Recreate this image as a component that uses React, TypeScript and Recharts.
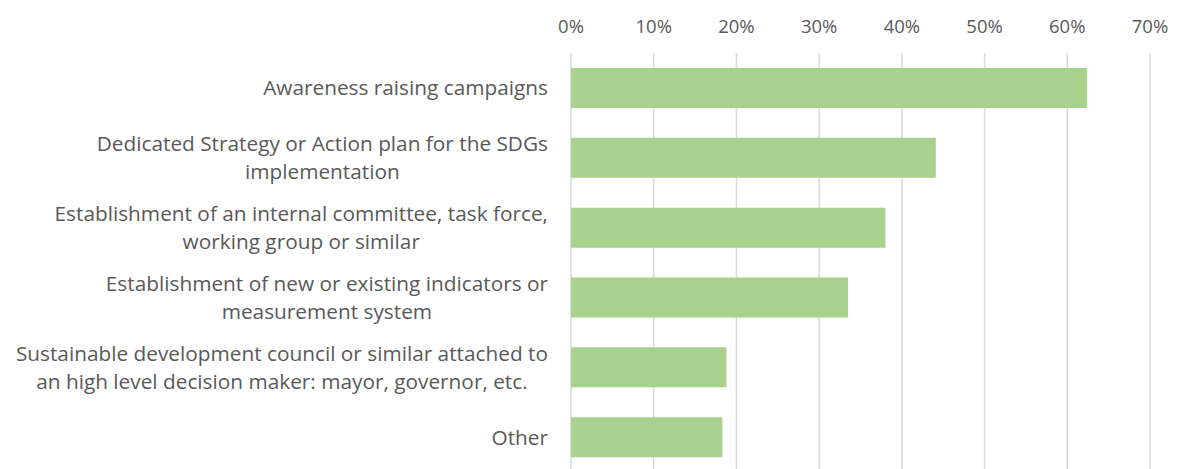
import React from 'react';
import { BarChart, Bar, XAxis, YAxis, CartesianGrid } from 'recharts';

const categories = [
  'Awareness raising campaigns',
  'Dedicated Strategy or Action plan for the SDGs\nimplementation',
  'Establishment of an internal committee, task force,\nworking group or similar',
  'Establishment of new or existing indicators or\nmeasurement system',
  'Sustainable development council or similar attached to\nan high level decision maker: mayor, governor, etc.',
  'Other',
];

const shares = [0.624, 0.441, 0.38, 0.335, 0.188, 0.183];

const xTicks = [0, 0.1, 0.2, 0.3, 0.4, 0.5, 0.6, 0.7];

const data = categories.map((name, i) => ({ name, value: shares[i] }));

const FONT = '"Open Sans", "Liberation Sans", sans-serif';
const TEXT = '#595959';
const LABEL_SIZE = 20.8;

let ctx: CanvasRenderingContext2D | null = null;
const measure = (s: string) => {
  if (!ctx) ctx = document.createElement('canvas').getContext('2d');
  if (!ctx) return s.length * LABEL_SIZE * 0.5;
  ctx.font = `${LABEL_SIZE}px ${FONT}`;
  return ctx.measureText(s).width;
};

// lines centred on each other, block right-aligned to the axis
const CategoryTick = (props: any) => {
  const { x, y, payload } = props;
  const lines: string[] = String(payload.value).split('\n');
  const lh = 28;
  const start = y - ((lines.length - 1) * lh) / 2;
  const blockW = Math.max(...lines.map(measure));
  const cx = x - blockW / 2;
  return (
    <g>
      {lines.map((l, i) => (
        <text
          key={i}
          x={cx}
          y={start + i * lh}
          dy="0.36em"
          textAnchor="middle"
          fontSize={LABEL_SIZE}
          fontFamily={FONT}
          fill={TEXT}
        >
          {l}
        </text>
      ))}
    </g>
  );
};

export default function App() {
  return (
    <div style={{ position: 'absolute', top: 0, left: 0, width: 1181, height: 469, background: '#fff' }}>
      <BarChart
        width={1181}
        height={469}
        data={data}
        layout="vertical"
        margin={{ top: 0, right: 31, bottom: -3, left: 0 }}
        barCategoryGap={30}
      >
        <CartesianGrid horizontal={false} stroke="#d9d9d9" strokeWidth={1.5} />
        <XAxis
          type="number"
          orientation="top"
          domain={[0, 0.7]}
          ticks={xTicks}
          tickFormatter={(v: number) => `${Math.round(v * 100)}%`}
          axisLine={false}
          tickLine={false}
          tickSize={0}
          tickMargin={20}
          height={53}
          interval={0}
          tick={{ fontSize: 18.5, fontFamily: FONT, fill: TEXT }}
        />
        <YAxis
          type="category"
          dataKey="name"
          width={571}
          axisLine={false}
          tickLine={false}
          tickSize={0}
          tickMargin={23}
          interval={0}
          tick={<CategoryTick />}
        />
        <Bar dataKey="value" fill="#a9d18e" barSize={40} isAnimationActive={false} />
      </BarChart>
    </div>
  );
}
